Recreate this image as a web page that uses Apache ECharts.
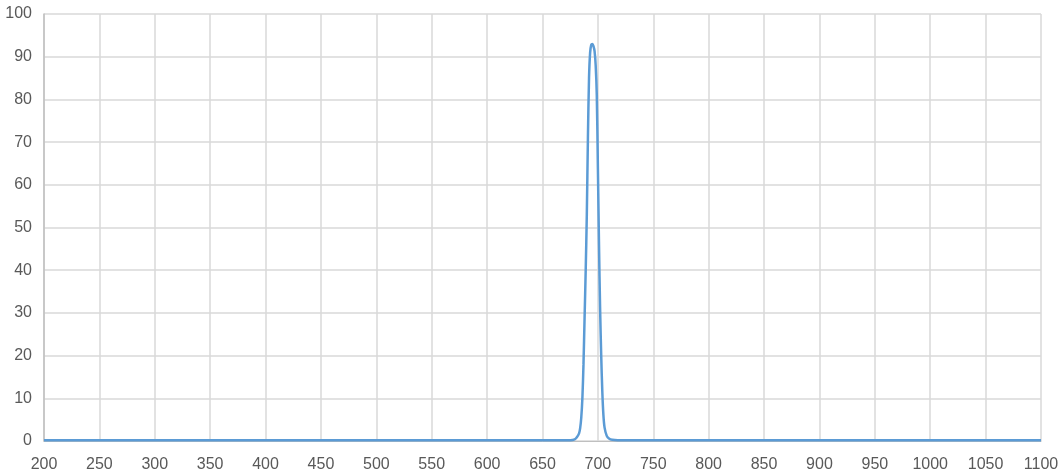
<!DOCTYPE html>
<html>
<head>
<meta charset="utf-8">
<script src="https://cdn.jsdelivr.net/npm/echarts@6/dist/echarts.min.js"></script>
<style>
html,body{margin:0;padding:0;background:#fff;}
#c{width:1064px;height:473px;}
</style>
</head>
<body>
<div id="c"></div>
<script>
// wavelength (nm) and transmission (%)
const wavelength = [200, 675, 679, 681, 683, 684, 685, 686, 687, 688, 689, 690, 691, 692, 693, 694, 695, 696, 697, 698, 699, 700, 701, 702, 703, 704, 705, 706, 708, 710, 713, 718, 1100];
const transmission = [0.2, 0.2, 0.4, 0.9, 1.8, 3, 5.5, 10, 18, 29, 40, 53, 71, 85, 91, 92.8, 93, 92.5, 91.3, 88, 81, 64, 46, 31, 20, 11.5, 6, 3.2, 1.2, 0.6, 0.3, 0.2, 0.2];
const xRange = {min: 200, max: 1100, interval: 50};
const yRange = {min: 0, max: 100, interval: 10};

const data = wavelength.map((w, i) => [w, transmission[i]]);

const chart = echarts.init(document.getElementById('c'), null, {renderer: 'canvas'});
const labelStyle = {color: '#595959', fontSize: 16, fontFamily: 'Liberation Sans, Arial, sans-serif'};
chart.setOption({
  animation: false,
  grid: {left: 44, right: 23, top: 14, bottom: 32, containLabel: false},
  xAxis: {
    type: 'value',
    min: xRange.min, max: xRange.max, interval: xRange.interval,
    axisLine: {show: true, lineStyle: {color: '#bfbfbf', width: 1}},
    axisTick: {show: false},
    axisLabel: Object.assign({margin: 16, formatter: v => String(v)}, labelStyle),
    splitLine: {show: true, lineStyle: {color: '#d9d9d9', width: 1.5}}
  },
  yAxis: {
    type: 'value',
    min: yRange.min, max: yRange.max, interval: yRange.interval,
    axisLine: {show: true, lineStyle: {color: '#bfbfbf', width: 1.5}},
    axisTick: {show: false},
    axisLabel: Object.assign({margin: 12, formatter: v => String(v)}, labelStyle),
    splitLine: {show: true, lineStyle: {color: '#d9d9d9', width: 1.5}}
  },
  series: [{
    type: 'line',
    data: data,
    showSymbol: false,
    smooth: 0.3,
    lineStyle: {color: '#5b9bd5', width: 2.5},
    itemStyle: {color: '#5b9bd5'}
  }]
});
</script>
</body>
</html>
